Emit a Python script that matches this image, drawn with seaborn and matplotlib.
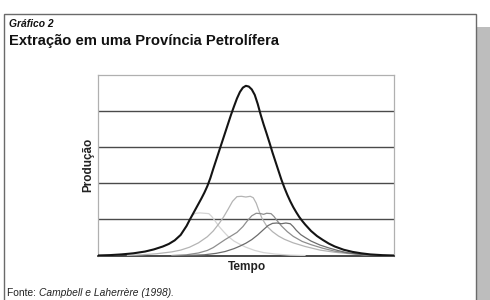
import matplotlib
matplotlib.use("Agg")
import matplotlib.pyplot as plt
from matplotlib.patches import Rectangle
import seaborn as sns
import pandas as pd

# ---- data (x = time 0..100, y = production 0..5) ----
main_x = [0, 4, 8, 12, 16, 19, 22, 24, 26, 28, 30, 31, 32, 33, 34, 35, 36, 37, 38, 39, 40, 41, 42, 43, 44, 45, 46, 47, 48, 49, 50,
          51, 52, 53, 54, 55, 56, 57, 58, 59, 60, 61, 62, 63, 64, 65, 66, 67, 68, 69, 70, 72, 74, 76, 78, 80, 83, 86, 89, 92, 96, 100]
main_y = [0, 0.01, 0.03, 0.06, 0.11, 0.17, 0.25, 0.32, 0.42, 0.57, 0.82, 0.98, 1.13, 1.28, 1.43, 1.58, 1.74, 1.92, 2.14, 2.4, 2.65,
          2.9, 3.15, 3.4, 3.65, 3.9, 4.13, 4.35, 4.53, 4.65, 4.7,
          4.68, 4.6, 4.45, 4.2, 3.9, 3.63, 3.38, 3.12, 2.85, 2.6, 2.35, 2.1, 1.88, 1.68, 1.5, 1.34, 1.2, 1.07, 0.96, 0.86,
          0.68, 0.54, 0.43, 0.33, 0.25, 0.16, 0.1, 0.06, 0.03, 0.01, 0]

c1_x = [0, 4, 8, 12, 16, 19, 22, 24, 26, 28, 30, 31, 32, 33, 34.5, 36, 37.5, 38.5, 39.5, 41, 42.5, 44, 46, 48, 50, 53, 56, 60, 65, 70]
c1_y = [0, 0.01, 0.03, 0.06, 0.11, 0.17, 0.25, 0.32, 0.42, 0.57, 0.82, 0.98, 1.12, 1.17, 1.18, 1.17, 1.16, 1.08, 0.97, 0.8, 0.66,
        0.53, 0.4, 0.31, 0.23, 0.14, 0.08, 0.04, 0.01, 0]

c2_x = [10, 15, 20, 25, 28, 31, 34, 37, 39, 41, 42.5, 44, 45.5, 47, 48.5, 50, 51.5, 52.5, 53.5, 54.5, 55.5, 57, 59, 61, 63, 66, 70, 75, 80, 85, 90, 95]
c2_y = [0, 0.02, 0.05, 0.1, 0.15, 0.23, 0.35, 0.52, 0.68, 0.89, 1.07, 1.28, 1.5, 1.63, 1.64, 1.62, 1.64, 1.6, 1.45, 1.22, 1.02,
        0.82, 0.66, 0.54, 0.45, 0.35, 0.25, 0.15, 0.09, 0.05, 0.02, 0]

c3_x = [25, 30, 34, 37, 39, 41, 43, 45, 47, 49, 50.5, 52, 53.5, 55, 56, 57, 58.5, 59.5, 60.5, 62, 64, 66, 69, 72, 76, 80, 85, 90, 95]
c3_y = [0, 0.02, 0.07, 0.14, 0.22, 0.33, 0.44, 0.54, 0.64, 0.8, 0.96, 1.1, 1.17, 1.16, 1.14, 1.17, 1.16, 1.08, 0.97, 0.82,
        0.66, 0.53, 0.39, 0.3, 0.2, 0.12, 0.06, 0.02, 0]

c4_x = [30, 36, 40, 43, 46, 48, 50, 52, 54, 56, 57.5, 59, 60.5, 62, 63.5, 65, 66, 67, 68.5, 70, 72, 75, 78, 81, 84, 88, 92, 95]
c4_y = [0, 0.02, 0.06, 0.11, 0.19, 0.26, 0.34, 0.44, 0.57, 0.72, 0.83, 0.89, 0.9, 0.88, 0.9, 0.88, 0.8, 0.7, 0.58, 0.5,
        0.4, 0.29, 0.21, 0.14, 0.08, 0.04, 0.01, 0]

grid_levels = [1, 2, 3, 4]

title_small = "Gráfico 2"
title_main = "Extração em uma Província Petrolífera"
y_label = "Produção"
x_label = "Tempo"
source_lead = "Fonte: "
source_text = "Campbell e Laherrère (1998)."

# ---- styling ----
sns.set_theme(style="white")
plt.rcParams["font.family"] = ["Liberation Sans", "DejaVu Sans"]

W, H = 490, 300
fig = plt.figure(figsize=(4.9, 3.0), dpi=100)
fig.patch.set_facecolor("white")

ax = fig.add_axes([97.7 / W, 1 - 255.5 / H, (394 - 97.7) / W, (255.5 - 75) / H])
ax.set_facecolor("white")

for yv in grid_levels:
    ax.axhline(yv, color="#4a4a4a", lw=1.0, zorder=1)

series = [
    (c1_x, c1_y, "#d4d4d4", 0.9),
    (c2_x, c2_y, "#b4b4b4", 0.9),
    (c3_x, c3_y, "#8e8e8e", 0.9),
    (c4_x, c4_y, "#6c6c6c", 0.9),
    (main_x, main_y, "#141414", 1.5),
]
for xs, ys, col, lw in series:
    df = pd.DataFrame({"t": xs, "p": ys})
    sns.lineplot(data=df, x="t", y="p", ax=ax, color=col, lw=lw, zorder=3,
                 estimator=None, sort=False)

ax.set_xlim(0, 100)
ax.set_ylim(0, 5)
ax.set_xticks([])
ax.set_yticks([])
ax.set_xlabel("")
ax.set_ylabel("")
for s in ["top", "left", "right"]:
    ax.spines[s].set_color("#b0b0b0")
    ax.spines[s].set_linewidth(0.9)
ax.spines["bottom"].set_color("#3a3a3a")
ax.spines["bottom"].set_linewidth(1.3)

# ---- figure decorations ----
def fx(px):
    return px / W

def fy(py):
    return 1 - py / H

# shadow
fig.add_artist(Rectangle((fx(477), fy(302)), fx(13), (302 - 27) / H,
                         transform=fig.transFigure, facecolor="#bdbdbd",
                         edgecolor="none", zorder=0))
# outer frame
fig.add_artist(Rectangle((fx(3.5), fy(305)), fx(472.5), (305 - 13.5) / H,
                         transform=fig.transFigure, facecolor="none",
                         edgecolor="#6a6a6a", lw=1.0, zorder=1))

fig.text(fx(9), fy(24), title_small, fontsize=7.4, fontweight="bold",
         fontstyle="italic", ha="left", va="center", color="#111111")
fig.text(fx(8.5), fy(44.5), title_main, fontsize=10.6, fontweight="bold",
         ha="left", va="baseline", color="#111111")

fig.text(fx(88), fy(165), y_label, fontsize=8.5, fontweight="bold",
         rotation=90, ha="center", va="center", color="#222222")
fig.text(fx(246.5), fy(270), x_label, fontsize=8.6, fontweight="bold",
         ha="center", va="baseline", color="#222222")

t1 = fig.text(fx(7), fy(295.5), source_lead, fontsize=7.4, ha="left",
              va="baseline", color="#222222")
fig.canvas.draw()
bb = t1.get_window_extent()
fig.text(bb.x1 / fig.bbox.width, fy(295.5), source_text, fontsize=7.4,
         fontstyle="italic", ha="left", va="baseline", color="#222222")

fig.savefig("out.png", dpi=100, facecolor="white")
